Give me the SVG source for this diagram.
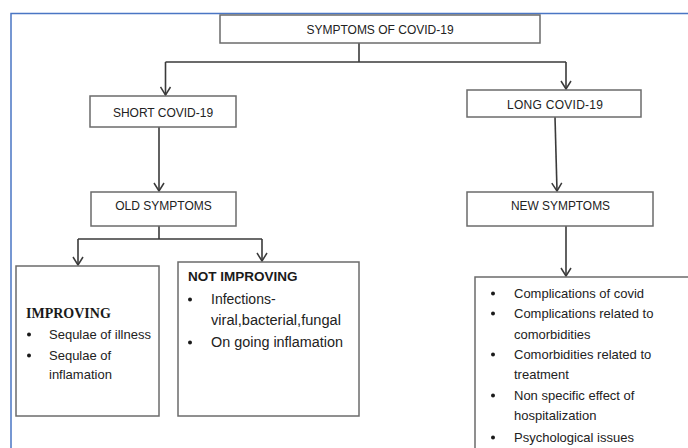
<svg xmlns="http://www.w3.org/2000/svg" width="688" height="448" viewBox="0 0 688 448">
<style>
.box{fill:#ffffff;stroke:#6b6b6b;stroke-width:1.5}
.lbl{font-family:"Liberation Sans",Arial,sans-serif;font-size:12px;fill:#222;text-anchor:middle}
.txt{font-family:"Liberation Sans",Arial,sans-serif;font-size:13px;fill:#222}
.hd{font-family:"Liberation Sans",Arial,sans-serif;font-size:13.5px;font-weight:bold;fill:#1a1a1a}
.hds{font-family:"Liberation Serif","Times New Roman",serif;font-size:14px;font-weight:bold;fill:#1a1a1a}
.bul{fill:#1a1a1a}
.ln{fill:none;stroke:#3a3a3a;stroke-width:1.6}
</style>
<defs>
<marker id="arr" markerUnits="userSpaceOnUse" markerWidth="12" markerHeight="12" viewBox="0 0 12 12" refX="9" refY="6" orient="auto">
<path d="M1,1 L9,6 L1,11" fill="none" stroke="#3a3a3a" stroke-width="1.5"/>
</marker>
</defs>
<rect x="0" y="0" width="688" height="448" fill="#ffffff"/>
<rect x="11" y="13.5" width="700" height="450" fill="none" stroke="#4a76c4" stroke-width="1.5"/>

<g id="connectors">
<path class="ln" d="M359,43 V62"/>
<path class="ln" d="M165.5,62 H566"/>
<path class="ln" d="M165.5,62 V95" marker-end="url(#arr)"/>
<path class="ln" d="M566,62 V89" marker-end="url(#arr)"/>
<path class="ln" d="M159,127 V191" marker-end="url(#arr)"/>
<path class="ln" d="M555,117 L557,191" marker-end="url(#arr)"/>
<path class="ln" d="M159,226 V239"/>
<path class="ln" d="M78,239 H262"/>
<path class="ln" d="M78,239 V265" marker-end="url(#arr)"/>
<path class="ln" d="M262,239 V261" marker-end="url(#arr)"/>
<path class="ln" d="M566,226 V276" marker-end="url(#arr)"/>
</g>

<g id="symptoms">
<rect class="box" x="220" y="15" width="320" height="28"/>
<text class="lbl" x="380" y="34">SYMPTOMS OF COVID-19</text>
</g>

<g id="short-covid">
<rect class="box" x="90" y="96" width="146" height="31"/>
<text class="lbl" x="163" y="117">SHORT COVID-19</text>
</g>

<g id="long-covid">
<rect class="box" x="467" y="90" width="174" height="27"/>
<text class="lbl" x="555" y="109" textLength="96" lengthAdjust="spacing">LONG COVID-19</text>
</g>

<g id="old-symptoms">
<rect class="box" x="91" y="192" width="145" height="34"/>
<text class="lbl" x="163.5" y="210">OLD SYMPTOMS</text>
</g>

<g id="new-symptoms">
<rect class="box" x="467" y="192" width="186" height="34"/>
<text class="lbl" x="560.5" y="210" textLength="99" lengthAdjust="spacingAndGlyphs">NEW SYMPTOMS</text>
</g>

<g id="improving">
<rect class="box" x="16" y="266" width="143" height="150"/>
<text class="hds" x="26" y="318">IMPROVING</text>
<circle class="bul" cx="29" cy="334.5" r="2"/>
<text class="txt" x="49" y="339">Sequlae of illness</text>
<circle class="bul" cx="29" cy="355.5" r="2"/>
<text class="txt" x="49" y="360">Sequlae of</text>
<text class="txt" x="49" y="379">inflamation</text>
</g>

<g id="not-improving">
<rect class="box" x="178" y="262" width="181" height="154"/>
<text class="hd" x="188" y="281">NOT IMPROVING</text>
<circle class="bul" cx="190" cy="299.5" r="2"/>
<text class="txt" x="211" y="304" style="font-size:14px">Infections-</text>
<text class="txt" x="211" y="325" style="font-size:14px" textLength="130" lengthAdjust="spacingAndGlyphs">viral,bacterial,fungal</text>
<circle class="bul" cx="190" cy="342.5" r="2"/>
<text class="txt" x="211" y="347" style="font-size:14px" textLength="132" lengthAdjust="spacingAndGlyphs">On going inflamation</text>
</g>

<g id="new-symptoms-list">
<rect class="box" x="475" y="277" width="230" height="185"/>
<circle class="bul" cx="493" cy="293.5" r="2"/>
<text class="txt" x="514" y="298">Complications of covid</text>
<circle class="bul" cx="493" cy="313.5" r="2"/>
<text class="txt" x="514" y="318">Complications related to</text>
<text class="txt" x="514" y="339">comorbidities</text>
<circle class="bul" cx="493" cy="354.5" r="2"/>
<text class="txt" x="514" y="359">Comorbidities related to</text>
<text class="txt" x="514" y="379">treatment</text>
<circle class="bul" cx="493" cy="395.5" r="2"/>
<text class="txt" x="514" y="400">Non specific effect of</text>
<text class="txt" x="514" y="420">hospitalization</text>
<circle class="bul" cx="493" cy="437.5" r="2"/>
<text class="txt" x="514" y="442">Psychological issues</text>
</g>
</svg>
